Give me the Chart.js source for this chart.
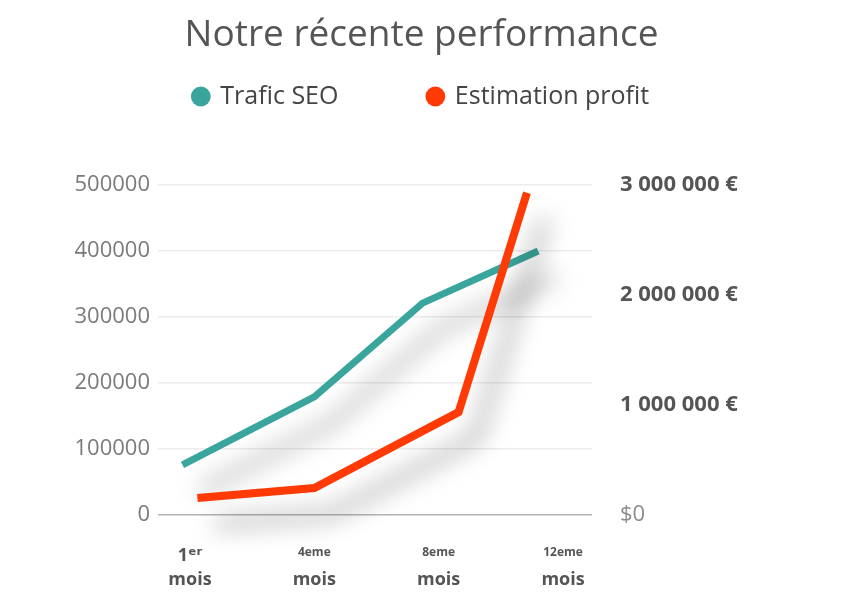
<!DOCTYPE html>
<html>
<head>
<meta charset="utf-8">
<script src="https://cdn.jsdelivr.net/npm/chart.js@4/dist/chart.umd.min.js"></script>
<style>
  body { margin: 0; background: #fff; }
  #wrap { width: 843px; height: 614px; }
</style>
</head>
<body>
<div id="wrap"><canvas id="perf" width="843" height="614"></canvas></div>
<script>
// values
const monthNumbers = ['1\u1d49\u02b3', '4eme', '8eme', '12eme'];
const monthWords = ['mois', 'mois', 'mois', 'mois'];
const seoPos = [-0.06, 1.0, 1.87, 2.8];          // where each SEO point sits between the month ticks
const seoTraffic = [76000, 179000, 321000, 400000];
const profitPos = [0.06, 1.0, 2.16, 2.71];
const profitEstimate = [155000, 245000, 935000, 2930000];
const seoTicks = ['0', '100000', '200000', '300000', '400000', '500000'];
const profitTicks = ['$0', '1 000 000 €', '2 000 000 €', '3 000 000 €'];

const FONT = "'Open Sans', 'DejaVu Sans', sans-serif";
const TEAL = '#3aa59c';
const RED = '#ff3a05';

// gray drop shadow under the lines
const lineShadow = {
  id: 'lineShadow',
  beforeDatasetDraw(chart) {
    const c = chart.ctx;
    c.save();
    c.shadowColor = 'rgba(0,0,0,0.4)';
    c.shadowBlur = 24;
    c.shadowOffsetX = 18;
    c.shadowOffsetY = 26;
  },
  afterDatasetDraw(chart) {
    chart.ctx.restore();
  }
};

const monthTickPositions = axis => {
  axis.ticks = monthNumbers.map((_, i) => ({ value: i }));
};

const ctx = document.getElementById('perf').getContext('2d');
const chart = new Chart(ctx, {
  type: 'line',
  data: {
    datasets: [{
      label: 'Trafic SEO',
      data: seoPos.map((x, i) => ({ x: x, y: seoTraffic[i] })),
      borderColor: TEAL,
      backgroundColor: TEAL,
      borderWidth: 7,
      pointRadius: 0,
      xAxisID: 'x',
      yAxisID: 'y',
      order: 1,
      clip: false
    }, {
      label: 'Estimation profit',
      data: profitPos.map((x, i) => ({ x: x, y: profitEstimate[i] })),
      borderColor: RED,
      backgroundColor: RED,
      borderWidth: 8,
      pointRadius: 0,
      xAxisID: 'x',
      yAxisID: 'y1',
      order: 0,
      clip: false
    }]
  },
  options: {
    responsive: false,
    animation: false,
    layout: { padding: { left: 0, right: 0, top: 0, bottom: 18 } },
    plugins: {
      tooltip: { enabled: false },
      title: {
        display: true,
        text: 'Notre récente performance',
        color: '#555',
        font: { family: FONT, size: 37, weight: 'normal' },
        padding: { top: 13, bottom: 14.6 }
      },
      legend: {
        display: true,
        labels: {
          color: '#444',
          font: { family: FONT, size: 25 },
          usePointStyle: true,
          pointStyle: 'circle',
          boxWidth: 14,
          boxHeight: 14,
          padding: 12,
          sort: (a, b) => a.datasetIndex - b.datasetIndex,
          generateLabels(chart) {
            const items = Chart.defaults.plugins.legend.labels.generateLabels(chart);
            items.forEach(item => {
              item.lineWidth = 0;
              if (item.datasetIndex === 0) item.text = item.text + ' '.repeat(12);
            });
            return items;
          }
        }
      },
      // empty block, just keeps the gap between legend and plot
      subtitle: {
        display: true,
        text: '',
        weight: 500,
        font: { size: 10 },
        padding: { top: 0, bottom: 54 }
      }
    },
    scales: {
      x: {
        type: 'linear',
        position: 'bottom',
        min: -0.257,
        max: 3.233,
        afterBuildTicks: monthTickPositions,
        afterFit: axis => { axis.height = 51; },
        grid: { display: false, drawTicks: false },
        border: { display: false },
        ticks: {
          autoSkip: false,
          maxRotation: 0,
          padding: 30,
          color: '#555',
          font: c => c.index === 0
            ? { family: FONT, size: 18, weight: 'bold' }
            : { family: FONT, size: 12, weight: 'bold' },
          callback: (v, i) => monthNumbers[i]
        }
      },
      x2: {
        type: 'linear',
        position: 'bottom',
        min: -0.257,
        max: 3.233,
        afterBuildTicks: monthTickPositions,
        afterFit: axis => { axis.height = 30; },
        grid: { display: false, drawTicks: false },
        border: { display: false },
        ticks: {
          autoSkip: false,
          maxRotation: 0,
          padding: 3,
          color: '#555',
          font: { family: FONT, size: 18, weight: 'bold' },
          callback: (v, i) => monthWords[i]
        }
      },
      y: {
        position: 'left',
        min: 0,
        max: 500000,
        afterFit: axis => { axis.width = 158; },
        ticks: {
          stepSize: 100000,
          padding: 8,
          color: '#7a7a7a',
          font: { family: FONT, size: 22 },
          callback: (v, i) => seoTicks[i]
        },
        grid: {
          drawTicks: false,
          lineWidth: 1.5,
          color: c => c.tick && c.tick.value === 0 ? '#b4b4b4' : '#ececec'
        },
        border: { display: false }
      },
      y1: {
        position: 'right',
        min: 0,
        max: 3000000,
        afterFit: axis => { axis.width = 251; },
        ticks: {
          stepSize: 1000000,
          padding: 28,
          color: c => c.index === 0 ? '#8c8c8c' : '#555',
          font: c => c.index === 0
            ? { family: FONT, size: 22, weight: 'normal' }
            : { family: FONT, size: 22, weight: 'bold' },
          callback: (v, i) => profitTicks[i]
        },
        grid: { display: false, drawTicks: false },
        border: { display: false }
      }
    }
  },
  plugins: [lineShadow]
});
</script>
</body>
</html>
